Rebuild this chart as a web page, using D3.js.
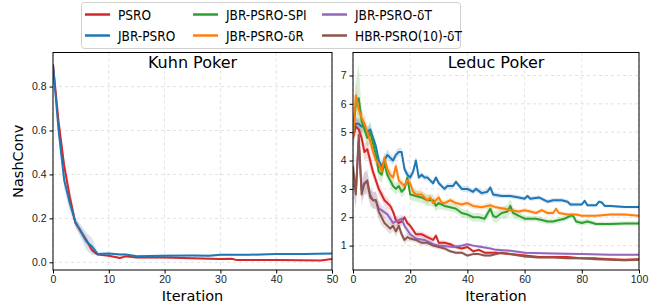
<!DOCTYPE html>
<html>
<head>
<meta charset="utf-8">
<script src="https://cdn.jsdelivr.net/npm/d3@7"></script>
<style>
  body { margin: 0; background: #fff; }
  svg { font-family: "DejaVu Sans", sans-serif; }
  .grid line { stroke: #d9d9d9; stroke-dasharray: 3,3; stroke-width: 0.8; }
  .axis path, .axis line { stroke: #000; }
  .axis text { font-size: 10.5px; fill: #222; }
  .legend text { font-family: "DejaVu Sans Condensed", "DejaVu Sans", sans-serif; font-stretch: condensed; }
</style>
</head>
<body>
<div id="chart"></div>
<script>
// ---- data: [iteration, mean, half-width of band] ----
const names = ['PSRO', 'JBR-PSRO', 'JBR-PSRO-SPI', 'JBR-PSRO-\u03b4R', 'JBR-PSRO-\u03b4T', 'HBR-PSRO(10)-\u03b4T']
const colors = ['#d62728', '#1f77b4', '#2ca02c', '#ff7f0e', '#9467bd', '#8c564b']

const kuhnPSRO = [[0,0.9,0.01],[1,0.64,0.02],[2,0.44,0.03],[3,0.3,0.03],[4,0.18,0.02],[5,0.14,0.02],[6,0.1,0.02],[7,0.055,0.01],[8,0.035,0.005],[10,0.03,0.005],[12,0.02,0.005],[13,0.027,0.005],[15,0.022,0.005],[20,0.022,0.005],[25,0.018,0.005],[30,0.015,0.005],[32,0.016,0.004],[33,0.01,0.003],[40,0.01,0.003],[48,0.008,0.003],[50,0.015,0.003]]
const kuhnJBR = [[0,0.9,0.01],[1,0.6,0.03],[2,0.375,0.04],[3,0.27,0.04],[4,0.185,0.02],[5,0.14,0.03],[6,0.095,0.04],[7,0.072,0.04],[8,0.038,0.005],[10,0.04,0.005],[12,0.036,0.005],[13,0.036,0.005],[15,0.028,0.005],[20,0.03,0.005],[25,0.031,0.005],[28,0.03,0.005],[30,0.034,0.005],[35,0.034,0.004],[40,0.038,0.004],[45,0.038,0.004],[50,0.04,0.004]]

const leducPSRO = [[0,4.8,0.3],[1,5.2,0.3],[2,5.1,0.3],[3,4.8,0.3],[4,4.3,0.3],[5,4.4,0.3],[6,4.0,0.3],[7,3.6,0.2],[8,3.3,0.2],[9,3.0,0.2],[10,2.8,0.2],[11,2.6,0.2],[12,2.5,0.2],[13,2.4,0.15],[14,2.2,0.15],[15,1.9,0.15],[16,1.8,0.15],[17,1.85,0.15],[18,2.0,0.1],[19,1.8,0.1],[20,1.7,0.1],[22,1.4,0.1],[24,1.4,0.1],[26,1.3,0.1],[28,1.2,0.1],[29,1.35,0.1],[30,1.1,0.08],[32,1.1,0.08],[34,1.05,0.08],[36,0.95,0.08],[38,0.9,0.06],[40,0.95,0.06],[42,0.8,0.06],[44,0.85,0.06],[46,0.75,0.05],[48,0.75,0.05],[50,0.75,0.05],[55,0.7,0.05],[60,0.65,0.05],[65,0.6,0.04],[70,0.6,0.04],[75,0.6,0.04],[80,0.55,0.04],[85,0.55,0.04],[90,0.52,0.04],[95,0.5,0.04],[100,0.52,0.04]]
const leducJBR = [[0,5.0,0.3],[1,5.3,0.2],[2,5.3,0.2],[3,5.2,0.2],[4,5.2,0.2],[5,5.0,0.2],[6,5.1,0.2],[7,4.8,0.2],[8,4.5,0.2],[9,4.0,0.2],[10,3.8,0.2],[11,4.0,0.2],[12,4.2,0.2],[13,4.1,0.15],[14,4.0,0.15],[15,4.2,0.15],[16,4.3,0.15],[17,4.3,0.15],[18,3.7,0.15],[19,3.5,0.15],[20,3.4,0.15],[21,3.6,0.15],[22,4.0,0.15],[23,3.4,0.1],[24,3.5,0.1],[25,3.4,0.1],[26,3.4,0.1],[27,3.3,0.1],[28,3.2,0.1],[29,3.4,0.1],[30,3.2,0.1],[32,3.0,0.1],[33,3.1,0.1],[35,3.1,0.1],[36,3.25,0.1],[38,3.0,0.1],[40,3.0,0.1],[42,2.9,0.1],[43,3.0,0.1],[45,2.85,0.1],[47,2.9,0.1],[48,3.05,0.1],[49,2.8,0.1],[52,2.75,0.08],[55,2.75,0.08],[58,2.7,0.08],[60,2.65,0.08],[61,2.75,0.08],[62,2.65,0.08],[65,2.7,0.08],[68,2.55,0.08],[70,2.6,0.08],[73,2.6,0.08],[75,2.55,0.08],[76,2.45,0.08],[80,2.45,0.06],[81,2.58,0.06],[82,2.42,0.06],[85,2.42,0.06],[86,2.55,0.06],[87,2.52,0.06],[88,2.4,0.06],[90,2.4,0.05],[95,2.36,0.05],[100,2.36,0.05]]
const leducSPI = [[0,4.9,0.5],[1,6.0,0.8],[2,6.2,1.2],[3,5.4,0.4],[4,5.1,0.3],[5,4.8,0.3],[6,5.0,0.4],[7,4.6,0.3],[8,4.2,0.3],[9,3.6,0.3],[10,3.5,0.3],[11,3.9,0.3],[12,3.5,0.2],[13,3.3,0.2],[14,3.1,0.2],[15,3.0,0.2],[16,3.1,0.2],[17,2.9,0.2],[18,3.0,0.2],[19,3.4,0.2],[20,2.8,0.2],[22,2.75,0.2],[24,2.7,0.2],[26,2.6,0.2],[28,2.6,0.2],[29,2.4,0.2],[30,2.5,0.2],[32,2.4,0.15],[34,2.35,0.15],[36,2.3,0.15],[38,2.15,0.15],[40,2.1,0.15],[42,2.0,0.15],[44,2.0,0.15],[46,1.95,0.15],[48,2.3,0.2],[49,2.05,0.2],[50,2.0,0.2],[52,2.15,0.2],[54,2.2,0.25],[55,2.4,0.25],[56,2.15,0.2],[58,2.05,0.15],[60,1.95,0.1],[62,1.95,0.1],[64,1.95,0.1],[66,1.9,0.1],[68,1.85,0.1],[70,1.85,0.1],[72,1.9,0.1],[74,1.95,0.1],[76,2.05,0.1],[77,2.05,0.1],[78,1.85,0.1],[80,1.8,0.1],[82,1.85,0.1],[85,1.76,0.08],[90,1.76,0.08],[95,1.78,0.08],[100,1.78,0.08]]
const leducDR = [[0,4.8,0.4],[1,6.3,0.5],[2,5.8,0.3],[3,5.5,0.3],[4,5.3,0.3],[5,5.0,0.3],[6,4.7,0.3],[7,4.3,0.2],[8,4.0,0.2],[9,3.9,0.2],[10,3.6,0.2],[11,4.1,0.2],[12,3.7,0.2],[13,3.5,0.2],[14,3.4,0.2],[15,3.8,0.2],[16,3.3,0.2],[17,3.2,0.15],[18,3.1,0.15],[19,3.3,0.15],[20,3.2,0.15],[21,2.9,0.15],[22,2.8,0.15],[24,2.8,0.15],[25,2.7,0.15],[26,2.6,0.15],[27,2.7,0.15],[28,2.5,0.15],[30,2.7,0.15],[31,2.5,0.1],[32,2.5,0.1],[34,2.6,0.1],[36,2.5,0.1],[38,2.45,0.1],[40,2.5,0.1],[42,2.4,0.1],[45,2.35,0.1],[48,2.42,0.1],[50,2.35,0.08],[53,2.3,0.08],[55,2.25,0.08],[58,2.2,0.08],[60,2.25,0.08],[62,2.2,0.08],[64,2.15,0.08],[66,2.25,0.08],[68,2.15,0.08],[70,2.15,0.08],[71,2.3,0.08],[72,2.15,0.08],[75,2.1,0.06],[78,2.1,0.06],[80,2.05,0.06],[85,2.05,0.06],[90,2.1,0.06],[95,2.1,0.06],[100,2.05,0.06]]
const leducDT = [[0,3.2,0.5],[1,2.9,0.5],[2,4.7,0.6],[3,3.0,0.4],[4,3.2,0.4],[5,3.2,0.4],[6,2.8,0.3],[7,2.6,0.3],[8,2.6,0.3],[9,2.3,0.3],[10,2.25,0.2],[12,2.1,0.2],[14,1.8,0.2],[16,1.9,0.15],[17,1.95,0.15],[18,1.7,0.15],[20,1.4,0.15],[22,1.25,0.1],[25,1.2,0.1],[28,1.05,0.08],[30,1.0,0.08],[35,0.95,0.06],[38,1.0,0.06],[40,1.05,0.06],[42,1.0,0.05],[45,0.95,0.05],[48,0.9,0.05],[50,0.85,0.05],[55,0.82,0.04],[60,0.75,0.04],[70,0.72,0.04],[80,0.7,0.03],[90,0.68,0.03],[100,0.68,0.03]]
const leducHBR = [[0,3.8,0.6],[1,2.8,0.5],[2,4.9,0.6],[3,2.8,0.4],[4,3.2,0.4],[5,3.3,0.4],[6,2.7,0.3],[7,2.6,0.3],[8,2.6,0.3],[9,2.2,0.3],[10,2.0,0.3],[11,1.8,0.2],[12,1.7,0.2],[13,1.6,0.2],[14,1.7,0.2],[15,1.5,0.2],[16,1.7,0.2],[17,1.4,0.15],[18,1.2,0.15],[19,1.3,0.15],[20,1.25,0.1],[22,1.2,0.1],[24,1.1,0.1],[26,1.1,0.1],[28,1.0,0.08],[30,0.95,0.08],[32,0.9,0.08],[34,0.8,0.06],[36,0.75,0.06],[38,0.75,0.06],[40,0.65,0.06],[42,0.7,0.05],[44,0.7,0.05],[46,0.65,0.05],[48,0.65,0.05],[50,0.7,0.05],[52,0.75,0.05],[55,0.7,0.05],[60,0.62,0.04],[65,0.58,0.04],[70,0.58,0.04],[75,0.55,0.04],[80,0.55,0.04],[85,0.52,0.04],[90,0.5,0.04],[95,0.48,0.04],[100,0.5,0.04]]

const kuhnXTicks = [0, 10, 20, 30, 40, 50]
const kuhnYTicks = [0.0, 0.2, 0.4, 0.6, 0.8]
const leducXTicks = [0, 20, 40, 60, 80, 100]
const leducYTicks = [1, 2, 3, 4, 5, 6, 7]

const W = 667, H = 308
const svg = d3.select('#chart').append('svg').attr('width', W).attr('height', H)

function make_panel(opt) {
    let x = d3.scaleLinear().domain(opt.xdom).range([opt.left, opt.right])
    let y = d3.scaleLinear().domain(opt.ydom).range([opt.bottom, opt.top])
    let g = svg.append('g')

    // grid
    let grid = g.append('g').attr('class', 'grid')
    grid.selectAll('.gx').data(opt.xticks).enter().append('line')
        .attr('x1', d => x(d)).attr('x2', d => x(d))
        .attr('y1', opt.top).attr('y2', opt.bottom)
    grid.selectAll('.gy').data(opt.yticks).enter().append('line')
        .attr('x1', opt.left).attr('x2', opt.right)
        .attr('y1', d => y(d)).attr('y2', d => y(d))

    let clipId = 'clip' + opt.id
    svg.append('clipPath').attr('id', clipId).append('rect')
        .attr('x', opt.left).attr('y', opt.top)
        .attr('width', opt.right - opt.left).attr('height', opt.bottom - opt.top)

    let area = d3.area().x(d => x(d[0])).y0(d => y(d[1] - d[2])).y1(d => y(d[1] + d[2]))
    let line = d3.line().x(d => x(d[0])).y(d => y(d[1]))

    let plot = g.append('g').attr('clip-path', `url(#${clipId})`)
    opt.series.forEach(s => {
        plot.append('path').datum(s.data).attr('d', area)
            .attr('fill', colors[s.c]).attr('fill-opacity', 0.18)
    })
    opt.series.forEach(s => {
        plot.append('path').datum(s.data).attr('d', line)
            .attr('fill', 'none').attr('stroke', colors[s.c])
            .attr('stroke-width', 2).attr('stroke-linejoin', 'round')
    })

    // axes
    let gx = g.append('g').attr('class', 'axis')
        .attr('transform', `translate(0,${opt.bottom})`)
        .call(d3.axisBottom(x).tickValues(opt.xticks).tickSize(3.5).tickPadding(2).tickFormat(d3.format('d')))
    let gy = g.append('g').attr('class', 'axis')
        .attr('transform', `translate(${opt.left},0)`)
        .call(d3.axisLeft(y).tickValues(opt.yticks).tickSize(3.5).tickPadding(3).tickFormat(opt.yfmt))
    gx.select('.domain').remove()
    gy.select('.domain').remove()

    g.append('rect').attr('x', opt.left).attr('y', opt.top)
        .attr('width', opt.right - opt.left).attr('height', opt.bottom - opt.top)
        .attr('fill', 'none').attr('stroke', '#000').attr('stroke-width', 1)

    g.append('text').attr('x', (opt.left + opt.right) / 2).attr('y', opt.top + 15.5)
        .attr('text-anchor', 'middle').style('font-size', '16px').text(opt.title)
    g.append('text').attr('x', (opt.left + opt.right) / 2).attr('y', opt.bottom + 31)
        .attr('text-anchor', 'middle').style('font-size', '14.5px').text('Iteration')
    if (opt.ylabel) {
        g.append('text').attr('transform', `translate(${opt.left - 30},${(opt.top + opt.bottom) / 2}) rotate(-90)`)
            .attr('text-anchor', 'middle').style('font-size', '14.5px').text(opt.ylabel)
    }
}

make_panel({
    id: 'kuhn', left: 53, right: 332, top: 52.5, bottom: 270,
    xdom: [0, 50], ydom: [-0.035, 0.955],
    xticks: kuhnXTicks, yticks: kuhnYTicks, yfmt: d3.format('.1f'),
    title: 'Kuhn Poker', ylabel: 'NashConv',
    series: [{ data: kuhnPSRO, c: 0 }, { data: kuhnJBR, c: 1 }]
})

make_panel({
    id: 'leduc', left: 353, right: 639, top: 52.5, bottom: 270,
    xdom: [0, 100], ydom: [0.14, 7.81],
    xticks: leducXTicks, yticks: leducYTicks, yfmt: d3.format('d'),
    title: 'Leduc Poker', ylabel: null,
    series: [
        { data: leducPSRO, c: 0 }, { data: leducJBR, c: 1 }, { data: leducSPI, c: 2 },
        { data: leducDR, c: 3 }, { data: leducDT, c: 4 }, { data: leducHBR, c: 5 }
    ]
})

// legend
let lg = svg.append('g').attr('class', 'legend')
lg.append('rect').attr('x', 81.5).attr('y', 2.5).attr('width', 379).attr('height', 46)
    .attr('rx', 3).attr('fill', '#fff').attr('stroke', '#d0d0d0')
let colX = [85, 193, 322]
names.forEach((n, i) => {
    let cx = colX[Math.floor(i / 2)], cy = 14.5 + (i % 2) * 21
    lg.append('line').attr('x1', cx).attr('x2', cx + 25).attr('y1', cy).attr('y2', cy)
        .attr('stroke', colors[i]).attr('stroke-width', 2.5)
    lg.append('text').attr('x', cx + 33).attr('y', cy + 5)
        .style('font-size', '13.5px').text(n)
})
</script>
</body>
</html>
